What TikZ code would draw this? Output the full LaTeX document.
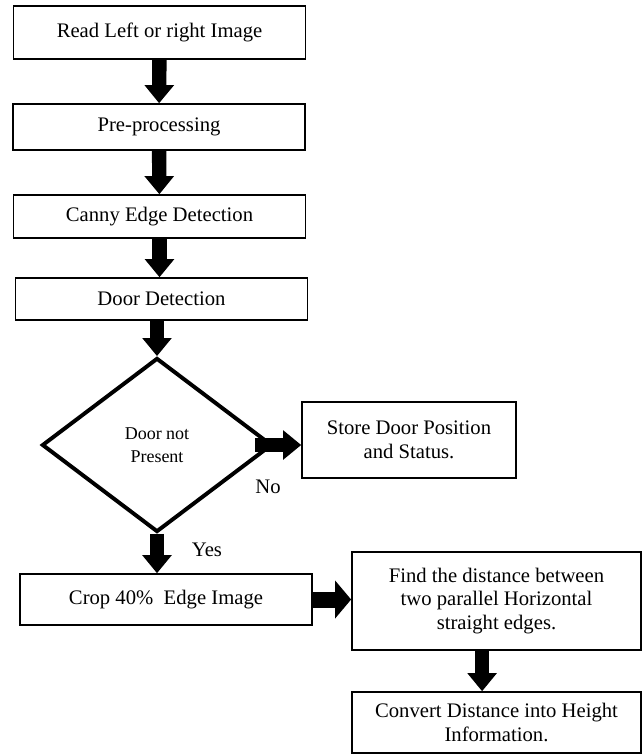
\documentclass[tikz,border=0pt]{standalone}
\usepackage{fontspec}
\setmainfont{Liberation Serif}
\usepackage{tikz}
\usetikzlibrary{positioning, arrows.meta, shapes.geometric}

\begin{document}
\begin{tikzpicture}[
  x=0.025cm, y=-0.025cm,
  font=\fontsize{14.7}{17}\selectfont,
  stepbox/.style={draw, line width=1.2pt, minimum width=7.3cm, inner sep=2pt, align=center},
  test/.style={draw, diamond, line width=2.8pt, minimum width=5.75cm, minimum height=4.35cm, inner sep=0pt, align=center, font=\fontsize{12.8}{16.5}\selectfont},
  flow/.style={line width=0.36cm, -{Triangle[width=0.74cm, length=0.45cm, line width=0pt]}},
  wideflow/.style={line width=0.4cm, -{Triangle[width=0.95cm, length=0.4cm, line width=0pt]}}
]
\useasboundingbox (0,0) rectangle (643,756);

% main column
\node[stepbox, minimum height=1.325cm] (rd) at (159.5,32.5) {Read Left or right Image};
\node[stepbox, minimum height=1.15cm]  (pp) at (159,127)    {Pre-processing};
\node[stepbox, minimum height=1.075cm] (ce) at (159.5,216.5) {Canny Edge Detection};
\node[stepbox, minimum height=1.05cm]  (dd) at (161.5,299)  {Door Detection};
\node[test] (dp) at (157,445) {Door not\\Present};
\node[stepbox, minimum width=5.35cm, minimum height=1.9cm] (sd) at (409,440) {Store Door Position\\and Status.};
\node[stepbox, minimum height=1.275cm] (cr) at (166,599.5) {Crop 40\%\ \ Edge Image};
\node[stepbox, minimum width=7.225cm, minimum height=2.45cm] (fd) at (496.5,601) {Find the distance between\\two parallel Horizontal\\straight edges.};
\node[stepbox, minimum width=7.225cm, minimum height=1.525cm] (cv) at (496.5,722.5) {Convert Distance into Height\\Information.};

% answers
\node (no)  at (268,487) {No};
\node (yes) at (207,550) {Yes};

% connectors
\draw[flow] (rd) -- (pp);
\draw[flow] (pp) -- (ce);
\draw[flow] (ce.south) -- (ce.south |- dd.north);
\draw[flow] (dp.north |- dd.south) -- (dp.north);
\draw[flow] ([xshift=-0.48cm]dp.east) -- (sd.west |- dp.east);
\draw[flow] (dp.south) -- (dp.south |- cr.north);
\draw[wideflow] (cr.east) -- (fd.west |- cr.east);
\draw[flow] ([xshift=-0.36cm]fd.south) -- ([xshift=-0.36cm]cv.north);
\end{tikzpicture}
\end{document}
